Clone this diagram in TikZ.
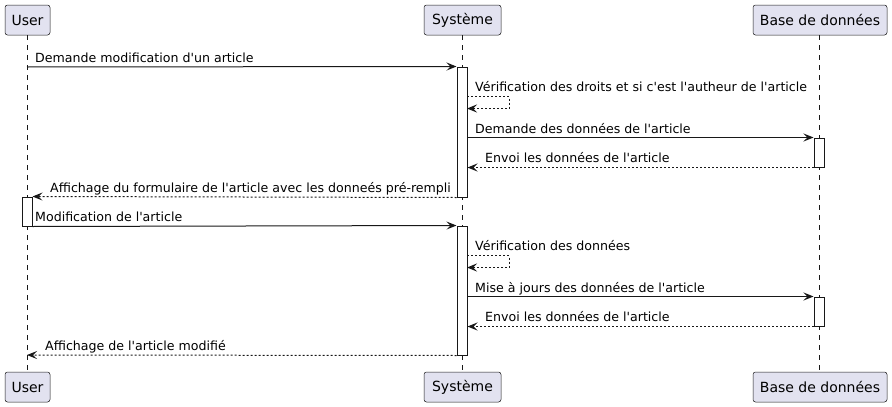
\documentclass[tikz,border=0pt]{standalone}
\usepackage{fontspec}
\setmainfont{DejaVu Sans}[Ligatures=TeXOff]
\usetikzlibrary{arrows.meta}
\definecolor{ink}{HTML}{181818}
\definecolor{partfill}{HTML}{E2E2F0}
\tikzset{
  part/.style={draw=ink, fill=partfill, rounded corners=2.5pt, line width=0.5pt, minimum height=30pt, inner sep=0pt, font=\fontsize{14}{16}\selectfont, text=black},
  life/.style={draw=ink, line width=0.5pt, dash pattern=on 5pt off 5pt},
  actbar/.style={draw=ink, fill=white, line width=1pt, minimum width=10pt, inner sep=0pt},
  tip/.style={-{Stealth[length=10pt,width=8pt,inset=4pt]}},
  smsg/.style={draw=ink, line width=1pt, tip},
  dmsg/.style={draw=ink, line width=1pt, tip, dash pattern=on 2pt off 2pt},
  lbl/.style={anchor=base west, inner sep=0pt, font=\fontsize{12.6}{15}\selectfont, text=black},
}
\begin{document}
\begin{tikzpicture}[x=1pt,y=-1pt]
\useasboundingbox (0,0) rectangle (892,407);
% participants
\node[part, minimum width=45pt] (uT) at (27.5,20) {User};
\node[part, minimum width=77pt] (sT) at (462.5,20) {Système};
\node[part, minimum width=134pt] (dT) at (820,20) {Base de données};
\node[part, minimum width=45pt] (uB) at (27.5,387) {User};
\node[part, minimum width=77pt] (sB) at (462.5,387) {Système};
\node[part, minimum width=134pt] (dB) at (820,387) {Base de données};
% lifelines
\coordinate (uL1) at (27,35); \coordinate (uL2) at (27,372);
\coordinate (sL1) at (462,35); \coordinate (sL2) at (462,372);
\coordinate (dL1) at (819,35); \coordinate (dL2) at (819,372);
\draw[life] (uL1) -- (uL2);
\draw[life] (sL1) -- (sL2);
\draw[life] (dL1) -- (dL2);
% activations
\node[actbar, minimum height=130pt] (aS1) at (462,132) {};
\node[actbar, minimum height=29pt] (aU1) at (27,211.5) {};
\node[actbar, minimum height=129pt] (aS2) at (462,290.5) {};
\node[actbar, minimum height=29pt] (aD1) at (819,152.5) {};
\node[actbar, minimum height=29pt] (aD2) at (819,311.5) {};
% message 1
\coordinate (m1a) at (27,67);
\draw[smsg] (m1a) -- (aS1.north west);
\node[lbl] (t1) at (35,62.5) {Demande modification d'un article};
% message 2 (self)
\coordinate (m2a) at (467,96.5);
\coordinate (m2b) at (467,108.5);
\coordinate (m2c) at (509,96.5);
\draw[dmsg] (m2a) -- (m2c) |- (m2b);
\node[lbl] (t2) at (475,91.5) {Vérification des droits et si c'est l'autheur de l'article};
% message 3
\draw[smsg] (aS1.east |- aD1.north) -- (aD1.north west);
\node[lbl] (t3) at (475,133) {Demande des données de l'article};
% message 4
\draw[dmsg] (aD1.south west) -- (aS1.east |- aD1.south);
\node[lbl] (t4) at (485,162) {Envoi les données de l'article};
% message 5
\draw[dmsg] (aS1.south west) -- (aU1.north east);
\node[lbl] (t5) at (50,192) {Affichage du formulaire de l'article avec les donneés pré-rempli};
% message 6
\draw[smsg] (aU1.south east) -- (aS2.north west);
\node[lbl] (t6) at (35,221) {Modification de l'article};
% message 7 (self)
\coordinate (m7a) at (467,255.5);
\coordinate (m7b) at (467,267.5);
\coordinate (m7c) at (509,255.5);
\draw[dmsg] (m7a) -- (m7c) |- (m7b);
\node[lbl] (t7) at (475,250) {Vérification des données};
% message 8
\draw[smsg] (aS2.east |- aD2.north) -- (aD2.north west);
\node[lbl] (t8) at (475,292) {Mise à jours des données de l'article};
% message 9
\draw[dmsg] (aD2.south west) -- (aS2.east |- aD2.south);
\node[lbl] (t9) at (485,321) {Envoi les données de l'article};
% message 10
\coordinate (m10) at (27,355);
\draw[dmsg] (aS2.south west) -- (m10);
\node[lbl] (t10) at (45,350) {Affichage de l'article modifié};
\end{tikzpicture}
\end{document}
